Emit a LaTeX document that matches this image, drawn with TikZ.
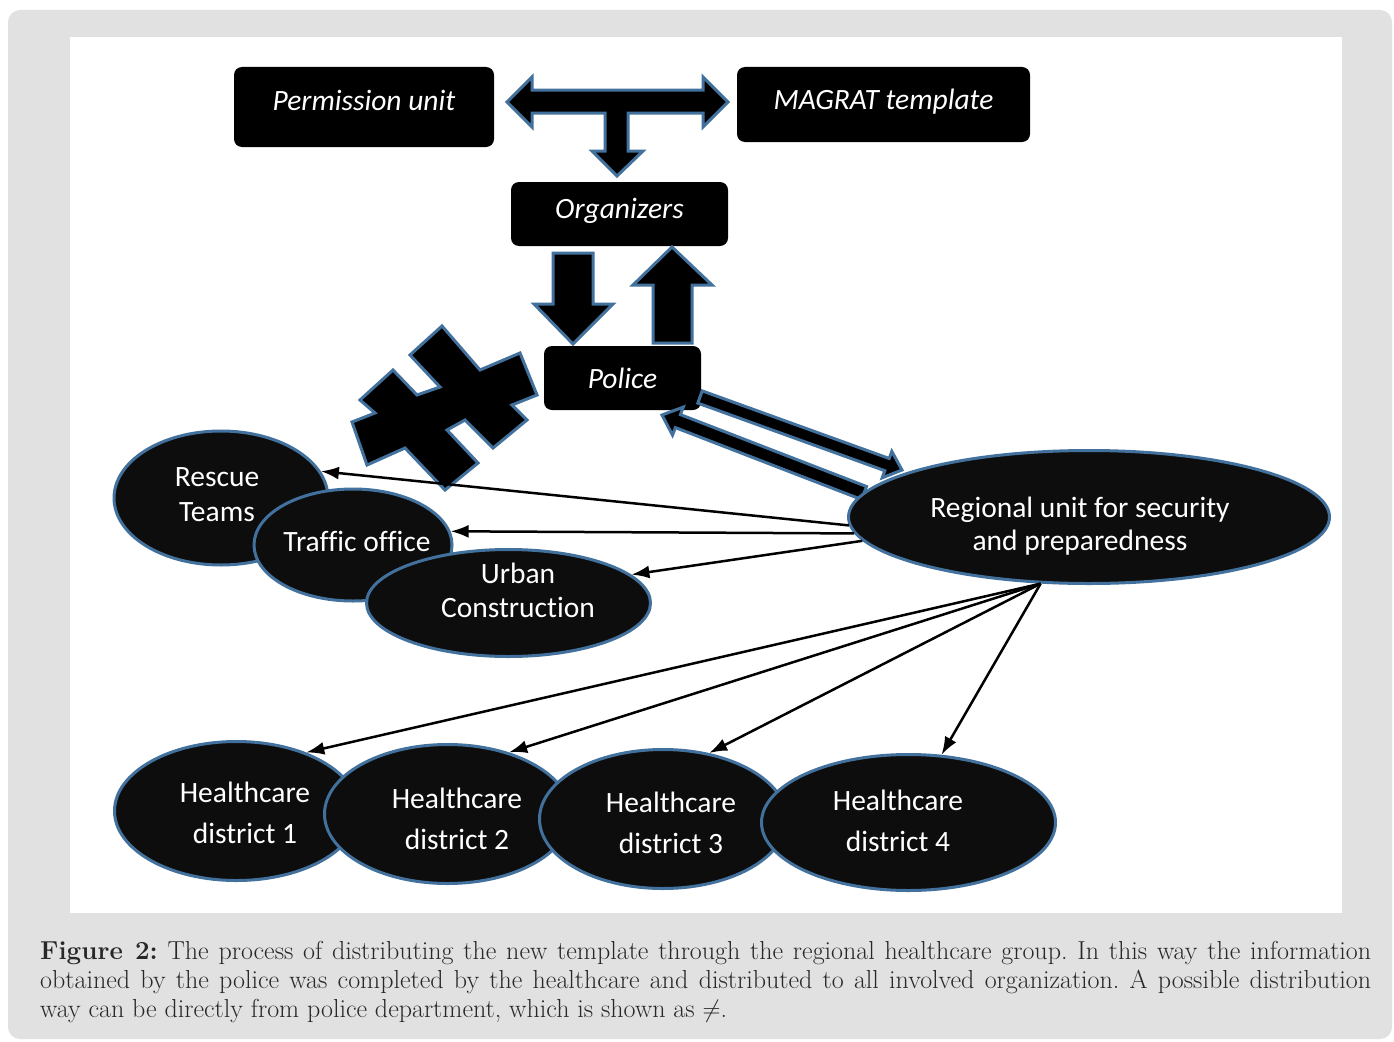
\documentclass[tikz,border=0pt]{standalone}
\usepackage{fontspec}
\usetikzlibrary{shapes.geometric,arrows.meta}
\newfontfamily\calibri[Ligatures=NoCommon]{Carlito}
\definecolor{panelgray}{RGB}{225,225,225}
\definecolor{outlineblue}{RGB}{65,113,156}
\definecolor{ovalfill}{RGB}{13,13,13}
\definecolor{captiontext}{RGB}{40,40,40}

\begin{document}
\begin{tikzpicture}[x=1pt,y=-1pt,
	box/.style={rectangle,rounded corners=8pt,fill=black,text=white,inner sep=0pt,font=\calibri\itshape\fontsize{29.5}{35}\selectfont},
	oval/.style={ellipse,draw=outlineblue,line width=3pt,fill=ovalfill,inner sep=0pt},
	ovaltext/.style={text=white,inner sep=0pt,align=center,font=\calibri\fontsize{29.5}{35}\selectfont},
	fat/.style={draw=outlineblue,line width=3pt,fill=black},
	link/.style={line width=2.5pt,-{Latex[length=18pt,width=13pt]}}]
	\useasboundingbox (0,0) rectangle (1394,1041);
	\fill[panelgray,rounded corners=12pt] (8,10) rectangle (1392,1039);
	\fill[white] (70,37) rectangle (1342,913);
	% boxes
	\node[box,minimum width=260,minimum height=80,text depth=14pt] (permission) at (364,107) {Permission unit};
	\node[box,minimum width=293,minimum height=75,text depth=10pt] (magrat) at (883.5,104.5) {MAGRAT template};
	\node[box,minimum width=217,minimum height=64,text depth=12pt] (organizers) at (619.5,214) {Organizers};
	\node[box,minimum width=157,minimum height=64] (police) at (622.5,378) {Police};
	% block arrows
	\draw[fat] (507,102) -- (532,77) -- (532,90) -- (703,90) -- (703,77) -- (728,102) -- (703,127) -- (703,113) -- (628,113) -- (628,151) -- (643,151) -- (617,176) -- (592,151) -- (605,151) -- (605,113) -- (532,113) -- (532,127) -- cycle;
	\draw[fat] (553,253) -- (593,253) -- (593,304) -- (613,304) -- (573,344) -- (534,304) -- (553,304) -- cycle;
	\draw[fat] (653,343) -- (653,285) -- (633,285) -- (672,247) -- (712,285) -- (692,285) -- (692,343) -- cycle;
	\draw[fat] (702.2,390.9) -- (889.2,458.5) -- (891.8,451.4) -- (902,470) -- (882.2,477.8) -- (884.8,470.7) -- (697.8,403.1) -- cycle;
	\draw[fat] (866.5,486.5) -- (680.4,414.6) -- (683.3,407.1) -- (662,415) -- (672.5,435.1) -- (675.4,427.6) -- (861.5,499.5) -- cycle;
	% not equal sign
	\draw[fat] (442,326) -- (480,370) -- (520,353) -- (537,395) -- (512,405) -- (527,420) -- (493,448) -- (465,420) -- (447,430) -- (478,463) -- (445,490) -- (405,448) -- (367,465) -- (352,422) -- (375,413) -- (360,400) -- (393,370) -- (417,395) -- (440,387) -- (410,355) -- cycle;
	% ovals
	\node[oval,minimum width=214,minimum height=134] (rescue) at (221,498) {};
	\node[ovaltext] (rescuetext) at (217,495) {Rescue\\Teams};
	\node[oval,minimum width=198,minimum height=112] (traffic) at (353,545) {};
	\node[ovaltext] (traffictext) at (357,541) {Traffic office};
	\node[oval,minimum width=284,minimum height=107] (urban) at (508.5,603) {};
	\node[ovaltext] (urbantext) at (518,590) {Urban\\[-1pt]Construction};
	\node[oval,minimum width=481,minimum height=133] (regional) at (1089,517) {};
	\node[ovaltext] (regionaltext) at (1080,526) {Regional unit for security\\[-2pt]and preparedness};
	\node[oval,minimum width=244,minimum height=139] (hd1) at (236.5,811) {};
	\node[ovaltext] (hd1text) at (245,813) {Healthcare\\[6pt]district 1};
	\node[oval,minimum width=246,minimum height=139] (hd2) at (447.5,814) {};
	\node[ovaltext] (hd2text) at (457,819) {Healthcare\\[6pt]district 2};
	\node[oval,minimum width=247,minimum height=139] (hd3) at (663,819) {};
	\node[ovaltext] (hd3text) at (671,823) {Healthcare\\[6pt]district 3};
	\node[oval,minimum width=294,minimum height=136] (hd4) at (908.5,822.5) {};
	\node[ovaltext] (hd4text) at (898,821) {Healthcare\\[6pt]district 4};
	% links
	\draw[link] (regional.182) -- (rescue.15);
	\draw[link] (regional.184) -- (traffic.8);
	\draw[link] (regional.186) -- (urban.13);
	\draw[link] (regional.234) -- (hd1.40);
	\draw[link] (regional.234) -- (hd2.45);
	\draw[link] (regional.234) -- (hd3.55);
	\draw[link] (regional.234) -- (hd4.64);
	\node[anchor=north west,inner sep=0pt,text width=1331pt,align=justify,text=captiontext,font=\fontsize{26}{29}\selectfont] (caption) at (40,941) {\frenchspacing\textbf{Figure 2:} The process of distributing the new template through the regional healthcare group. In this way the information\linebreak obtained by the police was completed by the healthcare and distributed to all involved organization. A possible distribution\linebreak way can be directly from police department, which is shown as $\neq$.};
\end{tikzpicture}
\end{document}
